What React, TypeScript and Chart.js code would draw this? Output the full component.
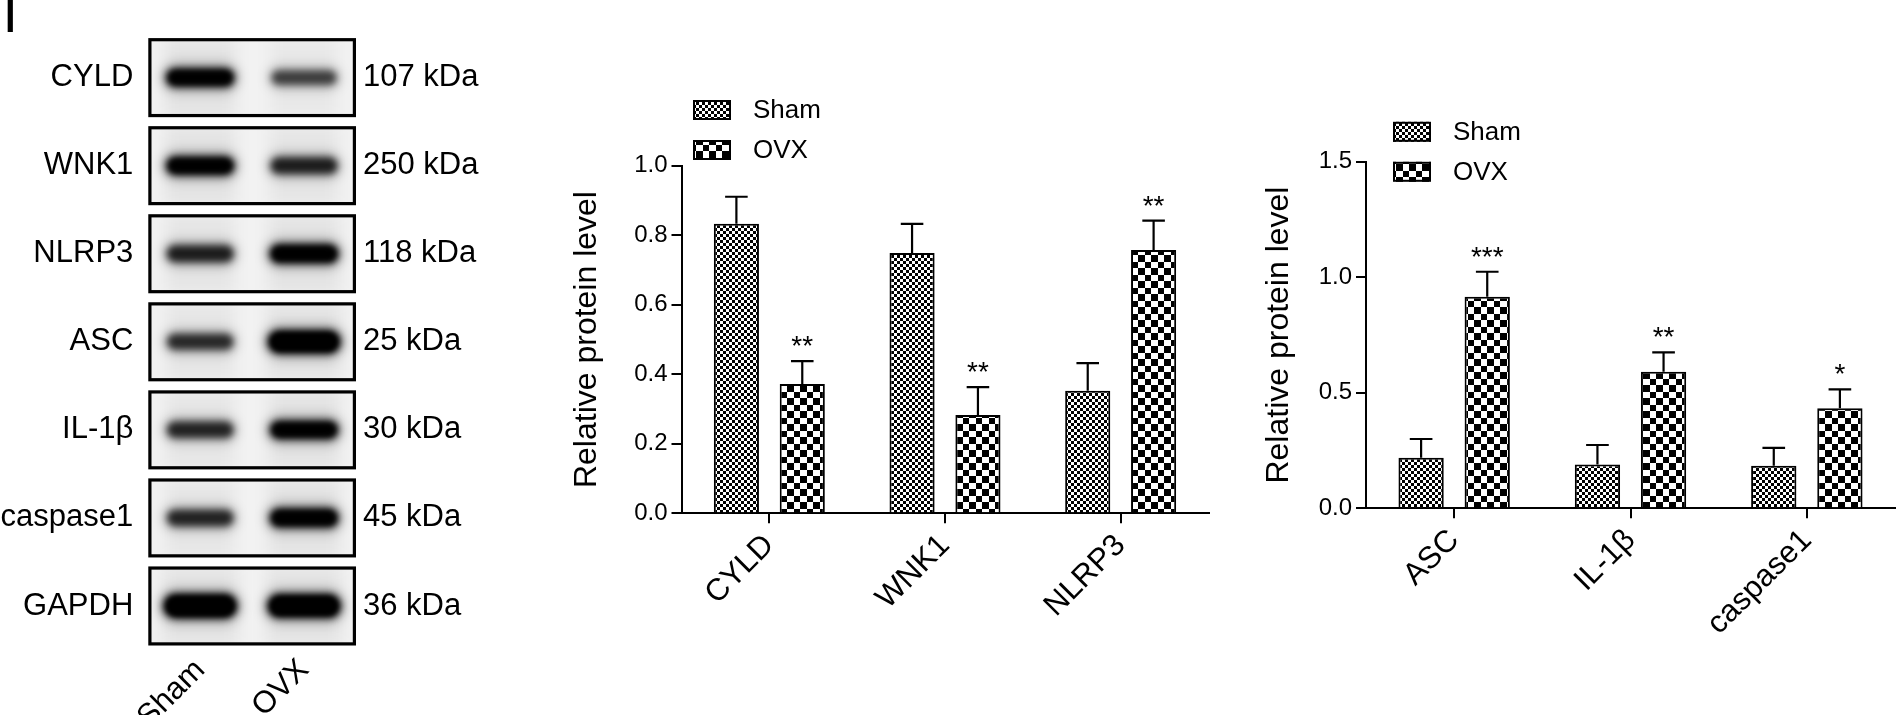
import React, { useEffect, useRef } from 'react';
import { Chart, registerables } from 'chart.js';

Chart.register(...registerables);

const FONT = '"Liberation Sans", Arial, Helvetica, sans-serif';

// ---------- Western blot panel ----------
const blotProteins = ['CYLD', 'WNK1', 'NLRP3', 'ASC', 'IL-1β', 'caspase1', 'GAPDH'];
const blotSizes = ['107 kDa', '250 kDa', '118 kDa', '25 kDa', '30 kDa', '45 kDa', '36 kDa'];
const blotLanes = ['Sham', 'OVX'];
// relative band signal
const bandSham = [0.95, 0.95, 0.78, 0.72, 0.75, 0.75, 1.45];
const bandOVX = [0.62, 0.78, 1.0, 1.35, 0.95, 0.98, 1.4];

// ---------- Chart 1 ----------
const cats1 = ['CYLD', 'WNK1', 'NLRP3'];
const sham1 = [0.833, 0.749, 0.353];
const sham1Err = [0.078, 0.084, 0.079];
const ovx1 = [0.372, 0.283, 0.758];
const ovx1Err = [0.066, 0.08, 0.084];
const ovx1Sig = ['**', '**', '**'];
const yTicks1 = [0, 0.2, 0.4, 0.6, 0.8, 1.0];

// ---------- Chart 2 ----------
const cats2 = ['ASC', 'IL-1β', 'caspase1'];
const sham2 = [0.219, 0.19, 0.184];
const sham2Err = [0.081, 0.084, 0.078];
const ovx2 = [0.916, 0.591, 0.433];
const ovx2Err = [0.108, 0.084, 0.082];
const ovx2Sig = ['***', '**', '*'];
const yTicks2 = [0, 0.5, 1.0, 1.5];

const seriesNames = ['Sham', 'OVX'];
const yTitle = 'Relative protein level';

function makeChecker(a: number, b: number): CanvasPattern {
  const c = document.createElement('canvas');
  c.width = a + b;
  c.height = a + b;
  const g = c.getContext('2d')!;
  g.fillStyle = '#fff';
  g.fillRect(0, 0, a + b, a + b);
  g.fillStyle = '#000';
  g.fillRect(0, 0, a, a);
  g.fillRect(a, a, b, b);
  return g.createPattern(c, 'repeat')!;
}

const errorBars = {
  id: 'errorBars',
  afterDatasetsDraw(chart: any, _a: any, opts: any) {
    const { ctx } = chart;
    const yS = chart.scales.y;
    chart.data.datasets.forEach((ds: any, di: number) => {
      const meta = chart.getDatasetMeta(di);
      meta.data.forEach((bar: any, i: number) => {
        const v = ds.data[i];
        const e = ds.errors ? ds.errors[i] : 0;
        const yTop = yS.getPixelForValue(v + e);
        const x = bar.x;
        const w = bar.width;
        ctx.save();
        ctx.strokeStyle = '#000';
        ctx.lineWidth = 2.2;
        ctx.beginPath();
        ctx.moveTo(x, bar.y);
        ctx.lineTo(x, yTop);
        ctx.moveTo(x - w / 4, yTop);
        ctx.lineTo(x + w / 4, yTop);
        ctx.stroke();
        const s = ds.stars ? ds.stars[i] : '';
        if (s) {
          ctx.fillStyle = '#000';
          ctx.font = `${opts.starSize}px ${FONT}`;
          ctx.textAlign = 'center';
          ctx.textBaseline = 'alphabetic';
          ctx.fillText(s, x, yTop - opts.starGap);
        }
        ctx.restore();
      });
    });
  },
};

const patternLegend = {
  id: 'patternLegend',
  afterDraw(chart: any, _a: any, opts: any) {
    const { ctx, chartArea } = chart;
    chart.data.datasets.forEach((ds: any, i: number) => {
      const x = chartArea.left + opts.dx;
      const y = chartArea.top + opts.dy[i];
      ctx.save();
      ctx.fillStyle = ds.backgroundColor;
      ctx.fillRect(x, y, opts.w, opts.h);
      ctx.lineWidth = 2;
      ctx.strokeStyle = '#000';
      ctx.strokeRect(x + 1, y + 1, opts.w - 2, opts.h - 2);
      ctx.fillStyle = '#000';
      ctx.font = `${opts.fontSize}px ${FONT}`;
      ctx.textAlign = 'left';
      ctx.textBaseline = 'middle';
      ctx.fillText(ds.label, x + opts.textDx, y + opts.h / 2 + 1);
      ctx.restore();
    });
  },
};

const blotPlugin = {
  id: 'blot',
  beforeDatasetsDraw(chart: any) {
    const { ctx, chartArea: ca } = chart;
    const yS = chart.scales.y;
    const n = blotProteins.length;
    const rowH = (ca.bottom - ca.top) / n;
    const boxH = rowH - 9;
    for (let i = 0; i < n; i++) {
      const yc = yS.getPixelForValue(i);
      const top = yc - boxH / 2;
      ctx.save();
      ctx.fillStyle = '#f2f2f2';
      ctx.fillRect(ca.left, top, ca.right - ca.left, boxH);
      ctx.beginPath();
      ctx.rect(ca.left + 3, top + 3, ca.right - ca.left - 6, boxH - 6);
      ctx.clip();
      chart.data.datasets.forEach((ds: any, di: number) => {
        const meta = chart.getDatasetMeta(di);
        const pt = meta.data[i];
        const v = ds.bands[i];
        const a = Math.min(1, v * 1.05);
        const w = 60 + 11 * v;
        const h = 7 + 12 * v;
        const x = pt.x;
        const y = pt.y;
        // faint lane smear
        ctx.filter = 'blur(8px)';
        ctx.fillStyle = `rgba(0,0,0,${0.06 * a})`;
        ctx.fillRect(x - w / 2, top, w, boxH);
        // halo
        ctx.filter = 'blur(6px)';
        ctx.fillStyle = `rgba(0,0,0,${0.4 * a})`;
        ctx.beginPath();
        ctx.roundRect(x - w / 2 - 2, y - h / 2 - 4, w + 4, h + 8, (h + 8) / 2);
        ctx.fill();
        // band core
        ctx.filter = 'blur(3.5px)';
        ctx.fillStyle = `rgba(0,0,0,${a})`;
        ctx.beginPath();
        ctx.roundRect(x - w / 2 + 1, y - h / 2, w - 2, h, h / 2);
        ctx.fill();
        if (v > 0.9) {
          ctx.filter = 'blur(2.5px)';
          ctx.fillStyle = `rgba(0,0,0,${Math.min(1, v - 0.3)})`;
          ctx.beginPath();
          ctx.roundRect(x - w / 2 + 5, y - h / 2 + 3, w - 10, h - 6, (h - 6) / 2);
          ctx.fill();
        }
      });
      ctx.restore();
      ctx.save();
      ctx.lineWidth = 3.2;
      ctx.strokeStyle = '#000';
      ctx.strokeRect(ca.left + 1.6, top + 1.6, ca.right - ca.left - 3.2, boxH - 3.2);
      ctx.restore();
    }
  },
  afterDraw(chart: any) {
    const { ctx } = chart;
    ctx.save();
    ctx.fillStyle = '#000';
    ctx.font = `56px ${FONT}`;
    ctx.textAlign = 'left';
    ctx.textBaseline = 'alphabetic';
    ctx.fillText('I', 2.5, 32);
    ctx.restore();
  },
};

function makeBlot(canvas: HTMLCanvasElement) {
  const tickFont = { size: 31, family: FONT };
  return new Chart(canvas, {
    type: 'scatter',
    data: {
      datasets: [
        {
          label: blotLanes[0],
          data: blotProteins.map((p) => ({ x: blotLanes[0], y: p })) as any,
          bands: bandSham,
          pointRadius: 0,
        } as any,
        {
          label: blotLanes[1],
          data: blotProteins.map((p) => ({ x: blotLanes[1], y: p })) as any,
          bands: bandOVX,
          pointRadius: 0,
        } as any,
      ],
    },
    options: {
      animation: false,
      responsive: false,
      events: [],
      layout: { padding: { top: 13.6, left: 0, right: 0, bottom: 0 } },
      plugins: { legend: { display: false }, tooltip: { enabled: false } },
      scales: {
        x: {
          type: 'category',
          labels: blotLanes,
          offset: true,
          position: 'bottom',
          afterFit: (s: any) => {
            s.height = 65;
          },
          grid: { display: false, drawTicks: false },
          border: { display: false },
          ticks: { font: tickFont, color: '#000', minRotation: 45, maxRotation: 45, padding: 2, autoSkip: false },
        },
        y: {
          type: 'category',
          labels: blotProteins,
          offset: true,
          position: 'left',
          afterFit: (s: any) => {
            s.width = 148.3;
          },
          grid: { display: false, drawTicks: false },
          border: { display: false },
          ticks: { font: tickFont, color: '#000', padding: 15, autoSkip: false },
        },
        y2: {
          type: 'category',
          labels: blotSizes,
          offset: true,
          position: 'right',
          afterFit: (s: any) => {
            s.width = 184;
          },
          grid: { display: false, drawTicks: false },
          border: { display: false },
          ticks: { font: tickFont, color: '#000', padding: 7, autoSkip: false },
        },
      } as any,
    },
    plugins: [blotPlugin],
  });
}

interface BarSpec {
  cats: string[];
  sham: number[];
  shamErr: number[];
  ovx: number[];
  ovxErr: number[];
  ovxSig: string[];
  ticks: number[];
  yWidth: number;
  xHeight: number;
  padTop: number;
  padRight: number;
  titlePad: number;
  legendDx: number;
  legendDy: number[];
}

function makeBars(canvas: HTMLCanvasElement, p: BarSpec) {
  const shamPat = makeChecker(3, 3);
  const ovxPat = makeChecker(7, 6);
  const maxV = p.ticks[p.ticks.length - 1];
  return new Chart(canvas, {
    type: 'bar',
    data: {
      labels: p.cats,
      datasets: [
        {
          label: seriesNames[0],
          data: p.sham,
          errors: p.shamErr,
          stars: [],
          backgroundColor: shamPat,
          borderColor: '#000',
          borderWidth: 2,
          categoryPercentage: 0.75,
          barPercentage: 0.685,
        } as any,
        {
          label: seriesNames[1],
          data: p.ovx,
          errors: p.ovxErr,
          stars: p.ovxSig,
          backgroundColor: ovxPat,
          borderColor: '#000',
          borderWidth: 2,
          categoryPercentage: 0.75,
          barPercentage: 0.685,
        } as any,
      ],
    },
    options: {
      animation: false,
      responsive: false,
      events: [],
      layout: { padding: { top: p.padTop, right: p.padRight, left: 0, bottom: 0 } },
      plugins: {
        legend: { display: false },
        tooltip: { enabled: false },
        errorBars: { starSize: 28, starGap: 6 },
        patternLegend: { dx: p.legendDx, dy: p.legendDy, w: 38, h: 20, textDx: 60, fontSize: 26 },
      } as any,
      scales: {
        x: {
          offset: true,
          afterFit: (s: any) => {
            s.height = p.xHeight;
          },
          ticks: {
            font: { size: 31, family: FONT },
            color: '#000',
            minRotation: 45,
            maxRotation: 45,
            autoSkip: false,
            padding: 4,
          },
          grid: {
            offset: false,
            drawOnChartArea: false,
            drawTicks: true,
            tickLength: 10,
            color: '#000',
            lineWidth: 2,
          },
          border: { display: true, color: '#000', width: 2 },
        },
        y: {
          min: 0,
          max: maxV,
          afterBuildTicks: (s: any) => {
            s.ticks = p.ticks.map((v) => ({ value: v }));
          },
          afterFit: (s: any) => {
            s.width = p.yWidth;
          },
          ticks: {
            font: { size: 24, family: FONT },
            color: '#000',
            padding: 4,
            callback: (v: any) => Number(v).toFixed(1),
          },
          grid: {
            drawOnChartArea: false,
            drawTicks: true,
            tickLength: 10,
            color: '#000',
            lineWidth: 2,
          },
          border: { display: true, color: '#000', width: 2 },
          title: {
            display: true,
            text: yTitle,
            color: '#000',
            font: { size: 32, family: FONT, lineHeight: 1.2 },
            padding: { top: p.titlePad, bottom: 0 },
          },
        },
      } as any,
    },
    plugins: [errorBars, patternLegend],
  });
}

function ChartCanvas(props: {
  left: number;
  top: number;
  width: number;
  height: number;
  make: (c: HTMLCanvasElement) => Chart;
}) {
  const ref = useRef<HTMLCanvasElement>(null);
  useEffect(() => {
    const chart = props.make(ref.current!);
    return () => chart.destroy();
  }, []);
  return (
    <canvas
      ref={ref}
      width={props.width}
      height={props.height}
      style={{
        position: 'absolute',
        left: props.left,
        top: props.top,
        width: props.width,
        height: props.height,
      }}
    />
  );
}

export default function App() {
  Chart.defaults.font.family = FONT;
  Chart.defaults.color = '#000';
  return (
    <div
      style={{
        position: 'absolute',
        left: 0,
        top: 0,
        width: 1896,
        height: 715,
        background: '#fff',
        overflow: 'hidden',
      }}
    >
      <ChartCanvas left={0} top={0} width={540} height={715} make={makeBlot} />
      <ChartCanvas
        left={540}
        top={60}
        width={700}
        height={655}
        make={(c) =>
          makeBars(c, {
            cats: cats1,
            sham: sham1,
            shamErr: sham1Err,
            ovx: ovx1,
            ovxErr: ovx1Err,
            ovxSig: ovx1Sig,
            ticks: yTicks1,
            yWidth: 141.5,
            xHeight: 201.7,
            padTop: 105.8,
            padRight: 31.5,
            titlePad: 28.4,
            legendDx: 11.5,
            legendDy: [-65.8, -25.8],
          })
        }
      />
      <ChartCanvas
        left={1240}
        top={60}
        width={656}
        height={655}
        make={(c) =>
          makeBars(c, {
            cats: cats2,
            sham: sham2,
            shamErr: sham2Err,
            ovx: ovx2,
            ovxErr: ovx2Err,
            ovxSig: ovx2Sig,
            ticks: yTicks2,
            yWidth: 126,
            xHeight: 206.7,
            padTop: 101.8,
            padRight: 1,
            titlePad: 20.4,
            legendDx: 27,
            legendDy: [-40, 0],
          })
        }
      />
    </div>
  );
}
